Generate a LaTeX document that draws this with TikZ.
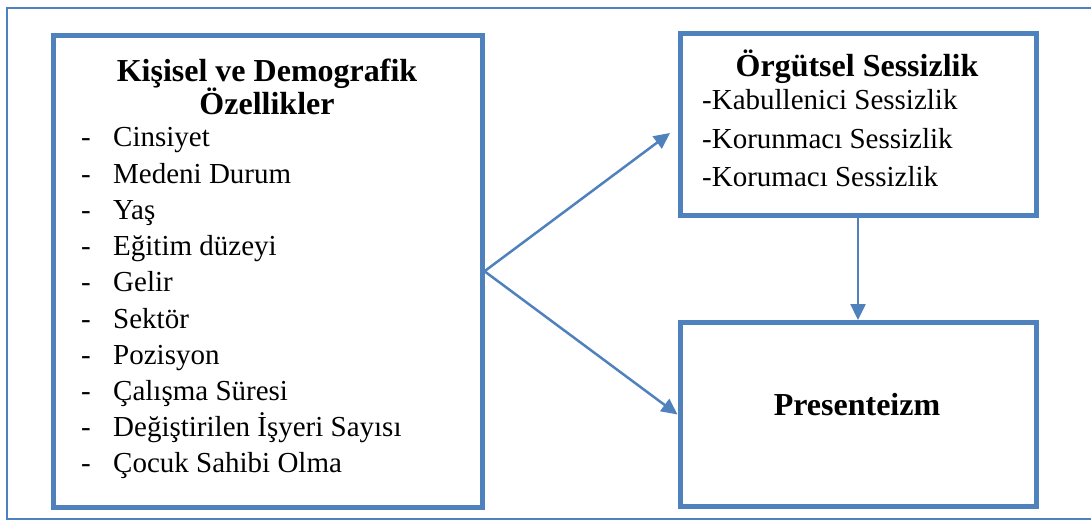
\documentclass[tikz,border=0pt]{standalone}
\usepackage{fontspec}
\setmainfont{Liberation Serif}
\usetikzlibrary{arrows.meta}
\definecolor{boxblue}{RGB}{79,129,189}
\begin{document}
\begin{tikzpicture}[x=1pt,y=-1pt,
    box/.style={rectangle,draw=boxblue,line width=5pt,inner sep=0pt},
    head/.style={font=\fontsize{32}{36}\selectfont\bfseries,anchor=base,inner sep=0pt},
    item/.style={font=\fontsize{29}{34}\selectfont,anchor=base west,inner sep=0pt},
    link/.style={draw=boxblue,line width=2.5pt,-{Triangle[length=16pt,width=15pt]}}]
\useasboundingbox (0,0) rectangle (1091,521);
%frame
        \draw[boxblue,line width=2pt] (1091,8) -- (7,8) -- (7,519) -- (1091,519);
%boxes
        \node[box,minimum width=428.5pt,minimum height=471.5pt] (kisisel) at (267.75,271.25) {};
        \node[box,minimum width=356pt,minimum height=182.5pt] (orgut) at (858,124.75) {};
        \node[box,minimum width=356pt,minimum height=184pt] (pres) at (858,414.5) {};
%left list
        \node[head] (kTitleA) at (267,82) {Kişisel ve Demografik};
        \node[head] (kTitleB) at (267,115) {Özellikler};
        \foreach \txt [count=\i from 0] in {Cinsiyet, Medeni Durum, Yaş, Eğitim düzeyi, Gelir, Sektör, Pozisyon, Çalışma Süresi, Değiştirilen İşyeri Sayısı, Çocuk Sahibi Olma} {
            \node[item] (dash\i) at (81,147+36.2*\i) {-};
            \node[item] (item\i) at (113,147+36.2*\i) {\txt};
        }
%right boxes
        \node[head] (oTitle) at (857,77) {Örgütsel Sessizlik};
        \node[item] (oItemA) at (702,110) {-Kabullenici Sessizlik};
        \node[item] (oItemB) at (702,149) {-Korunmacı Sessizlik};
        \node[item] (oItemC) at (702,187) {-Korumacı Sessizlik};
        \node[head] (pTitle) at (857,415) {Presenteizm};
%arrows
        \coordinate (tipA) at (670,133);
        \draw[link] (kisisel.east) -- (tipA);
        \draw[link] (kisisel.east) -- (pres.west);
        \draw[link] (orgut.south) -- (pres.north);
\end{tikzpicture}
\end{document}
